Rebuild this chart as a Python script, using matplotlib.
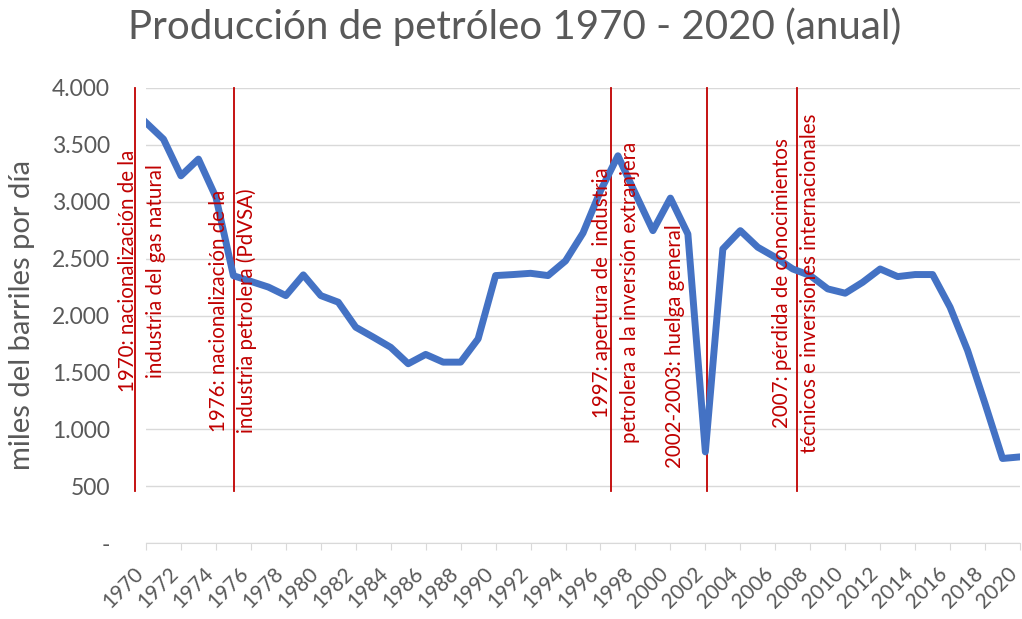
import matplotlib
matplotlib.use("Agg")
import matplotlib.pyplot as plt
from matplotlib.transforms import ScaledTranslation

plt.rcParams['font.family'] = ['Lato', 'DejaVu Sans']

years = list(range(1970, 2021))
produccion = [3696, 3550, 3228, 3375, 3040, 2350, 2300, 2250, 2175, 2357,
              2175, 2117, 1897, 1810, 1720, 1576, 1658, 1590, 1590, 1795,
              2351, 2360, 2371, 2351, 2480, 2725, 3096, 3404, 3070, 2746,
              3032, 2716, 801, 2585, 2746, 2600, 2512, 2409, 2351, 2234,
              2196, 2292, 2409, 2342, 2360, 2360, 2073, 1693, 1225, 743,
              757]

event_x = [1969.37, 1975.03, 1996.6, 2002.1, 2007.24]
event_text = ["1970: nacionalización de la\nindustria del gas natural",
              "1976: nacionalización de la\nindustria petrolera (PdVSA)",
              "1997: apertura de  industria\npetrolera a la inversión extranjera",
              "2002-2003: huelga general",
              "2007: pérdida de conocimientos\ntécnicos e inversiones internacionales"]
text_x = [1969.77, 1974.98, 1996.89, 2000.26, 2007.18]
text_y = [2395, 2044, 2202, 1728, 2281]

gray = '#595959'
red = '#C00000'

fig = plt.figure(figsize=(10.22, 6.19), dpi=100)
ax = fig.add_axes([146/1022, 1-543/619, 874/1022, 455/619])

ax.plot(years, produccion, color='#4472C4', linewidth=5, solid_joinstyle='round', zorder=3)

for x in event_x:
    ax.plot([x, x], [460, 4000], color=red, linewidth=1.3, clip_on=False, zorder=2)
for x, y, t in zip(text_x, text_y, event_text):
    ax.text(x, y, t, rotation=90, color=red, fontsize=14.8, ha='center', va='center',
            multialignment='center', linespacing=1.5, zorder=4)

ax.set_xlim(1970, 2020)
ax.set_ylim(0, 4000)
ax.set_yticks(range(0, 4001, 500))
ax.set_yticklabels(['-'] + ['{:,}'.format(v).replace(',', '.') for v in range(500, 4001, 500)])
ax.set_xticks(range(1970, 2021, 2))
ax.set_xticklabels([str(y) for y in range(1970, 2021, 2)], rotation=45, ha='right',
                   rotation_mode='anchor', va='center')
ax.tick_params(axis='y', length=0, pad=26, labelsize=16.5, labelcolor=gray)
ax.tick_params(axis='x', length=5, color='#D9D9D9', pad=15, labelsize=15, labelcolor=gray)
shift = ScaledTranslation(-4/72, 0, fig.dpi_scale_trans)
for lab in ax.get_xticklabels():
    lab.set_transform(lab.get_transform() + shift)
ax.grid(axis='y', color='#D9D9D9', linewidth=1)
ax.set_axisbelow(True)
for s in ['left', 'right', 'top']:
    ax.spines[s].set_visible(False)
ax.spines['bottom'].set_color('#D9D9D9')

ax.set_ylabel('miles del barriles por día', fontsize=21, color=gray, labelpad=12)
fig.text(515/1022, 1-27/619, 'Producción de petróleo 1970 - 2020 (anual)', fontsize=29,
         color=gray, ha='center', va='center')

fig.savefig('out.png', dpi=100)
